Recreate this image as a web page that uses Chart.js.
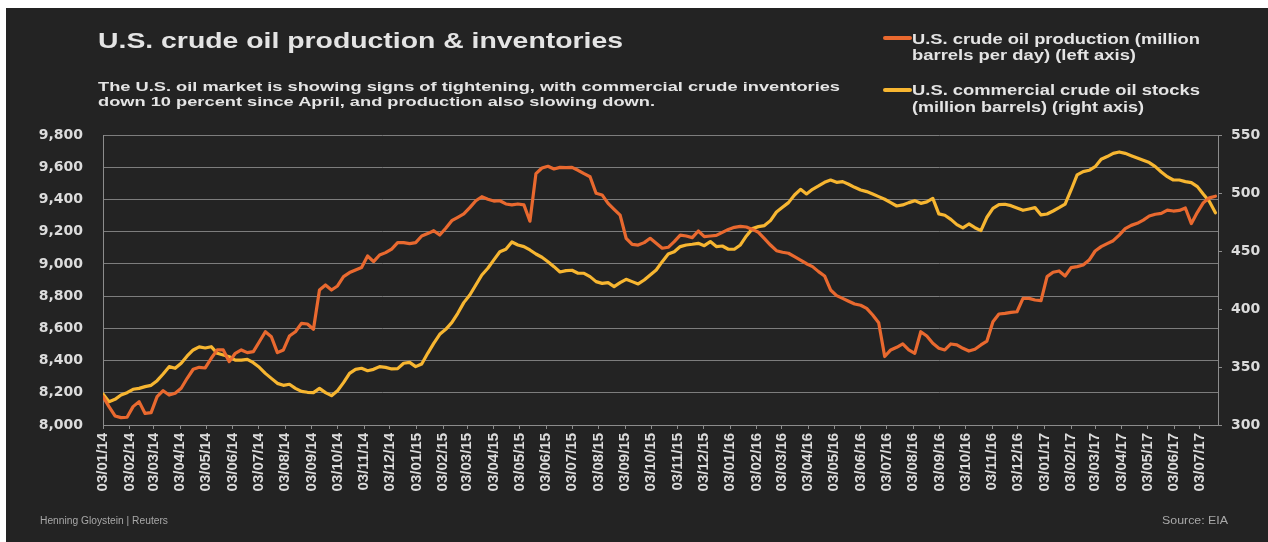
<!DOCTYPE html>
<html>
<head>
<meta charset="utf-8">
<script src="https://cdn.jsdelivr.net/npm/chart.js@4.4.1/dist/chart.umd.min.js"></script>
<style>
  html, body { margin: 0; padding: 0; background: #ffffff; width: 1268px; height: 542px; overflow: hidden; }
  #panel { position: absolute; left: 6px; top: 8px; width: 1262px; height: 534px; background: #232323; }
  #c { position: absolute; left: 0; top: 0; }
  .t { position: absolute; white-space: nowrap; font-family: "Liberation Sans", Arial, sans-serif; font-weight: bold; transform-origin: 0 0; line-height: 1; }
  .sw { position: absolute; height: 4px; border-radius: 2px; }
</style>
</head>
<body>
<div id="panel">
  <canvas id="c" width="1262" height="534"></canvas>
</div>
<div class="t" id="title" style="left:98px;top:30px;font-size:22px;color:#e4e4e4;" data-w="525">U.S. crude oil production &amp; inventories</div>
<div class="t" id="sub1" style="left:98px;top:80px;font-size:13px;color:#e4e4e4;" data-w="742">The U.S. oil market is showing signs of tightening, with commercial crude inventories</div>
<div class="t" id="sub2" style="left:98px;top:95px;font-size:13px;color:#e4e4e4;" data-w="557">down 10 percent since April, and production also slowing down.</div>
<div class="sw" style="left:883px;top:36px;width:29px;background:#e9692f;"></div>
<div class="t" id="leg1a" style="left:912px;top:32px;font-size:14px;color:#e4e4e4;" data-w="288">U.S. crude oil production (million</div>
<div class="t" id="leg1b" style="left:912px;top:48px;font-size:14px;color:#e4e4e4;" data-w="224">barrels per day) (left axis)</div>
<div class="sw" style="left:883px;top:88px;width:29px;background:#f7b631;"></div>
<div class="t" id="leg2a" style="left:912px;top:83px;font-size:14px;color:#e4e4e4;" data-w="288">U.S. commercial crude oil stocks</div>
<div class="t" id="leg2b" style="left:912px;top:100px;font-size:14px;color:#e4e4e4;" data-w="232">(million barrels) (right axis)</div>
<div class="t" id="foot1" style="left:40px;top:516px;font-size:10px;font-weight:normal;color:#a8a8a8;" data-w="128">Henning Gloystein | Reuters</div>
<div class="t" id="foot2" style="left:1162px;top:516px;font-size:10px;font-weight:normal;color:#a8a8a8;" data-w="66">Source: EIA</div>
<script>
// ---- DATA (weekly, starting 03/01/14) ----
const startDate = '2014-01-03';
const production = [
  8176, 8114, 8056, 8046, 8048, 8114, 8145, 8072, 8077, 8176, 8213, 8186, 8197, 8228, 8290, 8346, 8358, 8354, 8414, 8466,
  8466, 8393, 8445, 8466, 8449, 8455, 8517, 8579, 8548, 8449, 8466, 8552, 8579, 8631, 8627, 8594, 8838, 8869, 8838, 8863,
  8921, 8946, 8962, 8977, 9049, 9014, 9055,
  9070, 9092, 9132, 9132, 9126, 9132, 9173, 9188, 9206, 9179, 9221, 9268, 9289, 9310, 9349, 9392, 9417, 9401, 9390, 9392,
  9372, 9366, 9372, 9366, 9265, 9560, 9595, 9606, 9589, 9599, 9597, 9599, 9581, 9560, 9541, 9438, 9428, 9376, 9339, 9303,
  9159, 9121, 9117, 9132, 9159, 9128, 9097, 9103,
  9138, 9179, 9173, 9163, 9204, 9169, 9173, 9177, 9196, 9214, 9227, 9233, 9229, 9214, 9196, 9157, 9117, 9082, 9072, 9066,
  9045, 9024, 9001, 8983, 8952, 8925, 8838, 8803, 8786, 8768, 8751, 8743, 8724, 8683, 8635, 8425, 8466, 8482, 8503, 8466,
  8445, 8579, 8552, 8507,
  8476, 8466, 8503, 8497, 8476, 8459, 8470, 8497, 8521, 8641, 8689, 8693, 8699, 8703, 8786, 8786, 8776, 8772, 8921, 8948,
  8956, 8925, 8977, 8983, 8993, 9024, 9080, 9107, 9126, 9144, 9179, 9219, 9239, 9252, 9272, 9297, 9308, 9314, 9334, 9328,
  9332, 9347, 9250, 9320, 9380, 9410, 9420
];
const stocks = [
  326.7, 320.1, 322.1, 325.9, 327.9, 330.8, 331.6, 333.1, 334.2, 338.2, 344.0, 350.3, 348.9, 353.2, 359.5, 364.7, 367.3, 366.4, 367.5, 361.8,
  360.4, 358.9, 356.0, 356.0, 356.6, 353.7, 349.7, 344.5, 340.2, 335.9, 334.2, 335.1, 331.6, 329.0, 328.2, 327.9, 331.6, 327.9, 325.3, 329.6,
  336.5, 344.5, 348.0, 348.9, 346.8, 348.0, 350.3,
  349.7, 348.3, 348.6, 353.2, 354.0, 350.3, 352.6, 361.8, 370.4, 378.2, 382.5, 388.2, 396.3, 405.5, 412.1, 420.7, 429.3, 435.1, 442.3, 449.4,
  451.5, 457.8, 455.2, 453.8, 450.9, 447.4, 444.6, 440.8, 436.5, 431.9, 433.1, 433.4, 430.8, 430.8, 427.9, 423.6, 422.1, 422.7, 419.3, 422.7,
  425.6, 423.6, 421.6, 425.0, 429.3, 433.6, 440.8, 447.4,
  449.4, 453.8, 455.2, 455.8, 456.6, 454.6, 458.1, 453.8, 454.3, 451.5, 451.5, 455.2, 463.0, 469.3, 471.0, 471.9, 476.2, 483.6, 487.7, 491.7,
  498.3, 503.2, 499.2, 503.2, 506.1, 509.2, 511.2, 509.2, 509.8, 507.5, 504.9, 502.6, 501.2, 499.2, 496.9, 494.6, 491.7, 488.8, 489.7, 491.7,
  493.4, 491.1, 492.3, 495.4,
  482.0, 480.8, 477.3, 472.7, 469.9, 473.3, 470.1, 467.6, 479.1, 486.8, 490.0, 490.3, 489.1, 487.1, 485.1, 486.2, 487.4, 481.1, 481.9, 484.5,
  487.4, 490.5, 502.6, 515.6, 518.4, 519.6, 522.7, 529.1, 531.4, 534.2, 535.4, 534.2, 532.2, 530.2, 528.2, 526.2, 522.7, 518.1, 514.1, 511.2,
  511.2, 509.8, 508.9, 505.5, 498.9, 492.6, 483.0
];
const monthLabels = [
  '03/01/14','03/02/14','03/03/14','03/04/14','03/05/14','03/06/14','03/07/14','03/08/14','03/09/14','03/10/14','03/11/14','03/12/14',
  '03/01/15','03/02/15','03/03/15','03/04/15','03/05/15','03/06/15','03/07/15','03/08/15','03/09/15','03/10/15','03/11/15','03/12/15',
  '03/01/16','03/02/16','03/03/16','03/04/16','03/05/16','03/06/16','03/07/16','03/08/16','03/09/16','03/10/16','03/11/16','03/12/16',
  '03/01/17','03/02/17','03/03/17','03/04/17','03/05/17','03/06/17','03/07/17'
];
const leftTicks = { min: 8000, max: 9800, step: 200 };
const rightTicks = { min: 300, max: 550, step: 50 };
const seriesNames = ['U.S. crude oil production (million barrels per day) (left axis)',
                     'U.S. commercial crude oil stocks (million barrels) (right axis)'];

// ---- helpers ----
const DAY = 86400000;
const t0 = Date.parse(startDate + 'T00:00:00Z');
function labelToDay(s) {
  const [d, m, y] = s.split('/').map(Number);
  return (Date.UTC(2000 + y, m - 1, d) - t0) / DAY;
}
const tickDays = monthLabels.map(labelToDay);
const toPoints = arr => arr.map((v, i) => ({ x: i * 7, y: v }));

const GRID = '#7d7d7d';
const AXIS = '#8c8c8c';
const TXT = '#dcdcdc';

new Chart(document.getElementById('c'), {
  type: 'line',
  data: {
    datasets: [
      { label: seriesNames[0], data: toPoints(production), yAxisID: 'y', borderColor: '#e9692f', borderWidth: 3.2, pointRadius: 0, tension: 0, borderJoinStyle: 'round', borderCapStyle: 'round' },
      { label: seriesNames[1], data: toPoints(stocks), yAxisID: 'y1', borderColor: '#f7b631', borderWidth: 3.2, pointRadius: 0, tension: 0, borderJoinStyle: 'round', borderCapStyle: 'round' }
    ]
  },
  options: {
    responsive: false,
    animation: false,
    events: [],
    layout: { padding: { top: 127, left: 0, right: 0, bottom: 0 } },
    plugins: { legend: { display: false }, tooltip: { enabled: false }, title: { display: false } },
    scales: {
      x: {
        type: 'linear',
        min: 0,
        max: 1298,
        afterBuildTicks: (scale) => { scale.ticks = tickDays.map(v => ({ value: v })); },
        afterFit: (scale) => { scale.height = 117; },
        ticks: {
          autoSkip: false, minRotation: 90, maxRotation: 90, padding: 4,
          color: TXT, font: { family: '"Liberation Sans", Arial, sans-serif', weight: 'bold', size: 15 },
          callback: (v, i) => monthLabels[i]
        },
        grid: { drawOnChartArea: false, drawTicks: true, tickLength: 4, color: AXIS },
        border: { display: true, color: AXIS }
      },
      y: {
        position: 'left',
        min: leftTicks.min, max: leftTicks.max,
        afterFit: (scale) => { scale.width = 97; },
        ticks: {
          stepSize: leftTicks.step, padding: 20, color: TXT,
          font: { family: '"DejaVu Sans", sans-serif', weight: 'bold', size: 14 },
          callback: v => v.toLocaleString('en-US')
        },
        grid: { color: GRID, drawTicks: false, lineWidth: 1 },
        border: { display: true, color: AXIS }
      },
      y1: {
        position: 'right',
        min: rightTicks.min, max: rightTicks.max,
        afterFit: (scale) => { scale.width = 50; },
        ticks: {
          stepSize: rightTicks.step, padding: 9, color: TXT,
          font: { family: '"DejaVu Sans", sans-serif', weight: 'bold', size: 14 }
        },
        grid: { drawOnChartArea: false, drawTicks: true, tickLength: 4, color: AXIS },
        border: { display: true, color: AXIS }
      }
    }
  }
});

// stretch HTML text lines to the widths seen in the reference
document.querySelectorAll('.t[data-w]').forEach(el => {
  const w = el.getBoundingClientRect().width;
  const target = parseFloat(el.dataset.w);
  if (w > 0) el.style.transform = 'scaleX(' + (target / w).toFixed(4) + ')';
});
</script>
</body>
</html>
